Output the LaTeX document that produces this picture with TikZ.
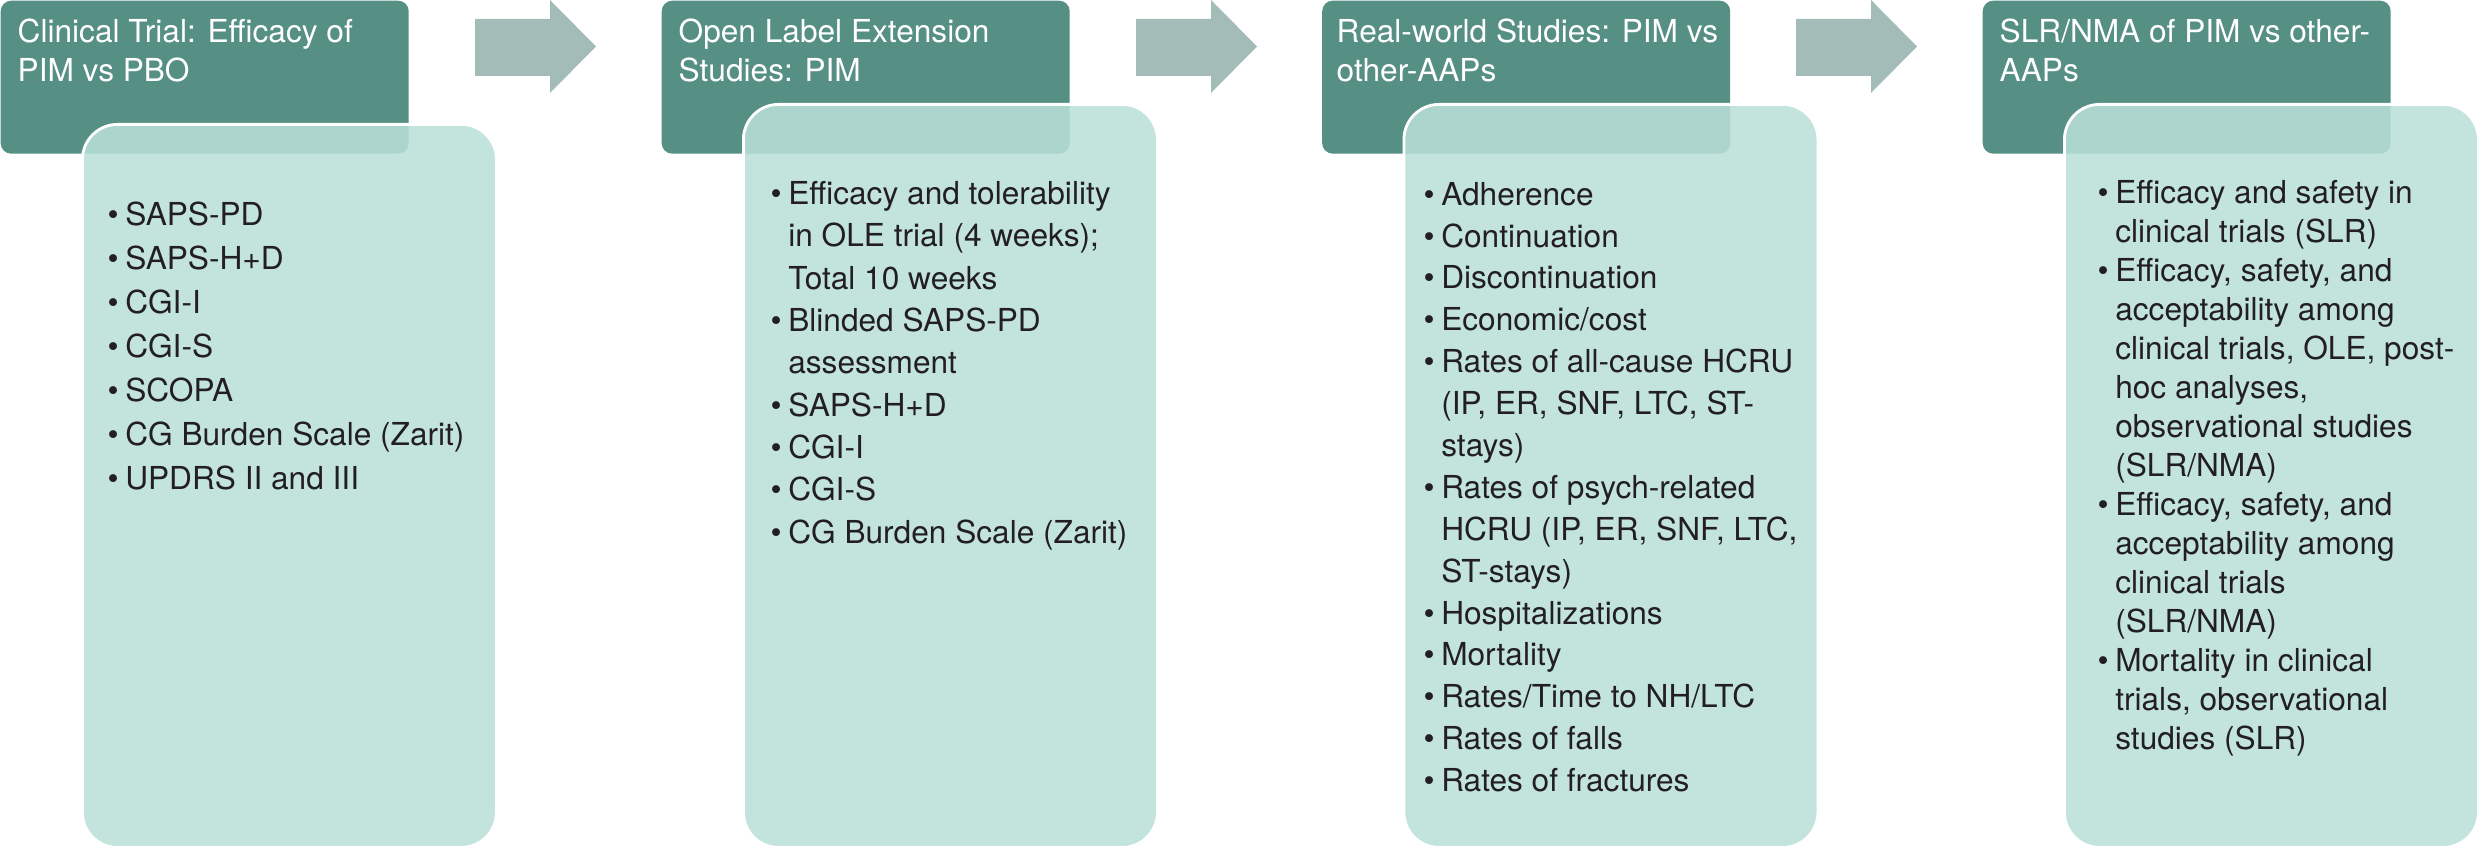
\documentclass[tikz,border=0pt]{standalone}
\usepackage{fontspec}
\setmainfont{TeX Gyre Heros}
\usepackage{tikz}
\usepackage{xcolor}

\definecolor{headerfill}{HTML}{568F84}
\definecolor{panelfill}{HTML}{B9E0D8}
\definecolor{arrowfill}{HTML}{A3BCB7}
\definecolor{textdark}{HTML}{231F20}

\newcommand{\bitem}{\makebox[5pt][l]{\textbullet}}
\newcommand{\bcont}{\hspace*{5pt}}

\begin{document}
\begin{tikzpicture}[
    every node/.style={font=\fontsize{9}{11.1}\selectfont},
    header/.style={
        fill=headerfill,
        rounded corners=3pt,
        anchor=north west,
        minimum width=4.08cm,
        minimum height=1.53cm,
        inner sep=0pt
    },
    panel/.style={
        fill=panelfill,
        fill opacity=0.88,
        draw=white,
        line width=0.8pt,
        rounded corners=10pt,
        anchor=north west,
        minimum width=4.14cm,
        inner sep=0pt
    },
    headtext/.style={
        anchor=north west,
        align=left,
        inner sep=0pt,
        text=white,
        execute at begin node={\rule{0pt}{7pt}}
    },
    items/.style={
        anchor=north west,
        align=left,
        inner sep=0pt,
        text=textdark,
        execute at begin node={\rule{0pt}{7pt}}
    },
    flow/.style={
        fill=arrowfill
    }
]

\useasboundingbox (0,0) rectangle (24.8,8.52);

% ============================================================
% CLINICAL TRIAL
% ============================================================

\node[header] (head1) at (0,8.52) {};

\node[
    panel,
    minimum height=7.23cm
] (body1) at (0.81,7.29) {};

\node[headtext] (title1) at (0.17,8.336)
{Clinical Trial: Efficacy of\\
PIM vs PBO};

\node[
    items,
    font=\fontsize{9}{12.5}\selectfont
] (list1) at (1.07,6.506)
{\bitem SAPS-PD\\
\bitem SAPS-H+D\\
\bitem CGI-I\\
\bitem CGI-S\\
\bitem SCOPA\\
\bitem CG Burden Scale (Zarit)\\
\bitem UPDRS II and III};

% Seta
\fill[flow] (4.75,8.33) -- (5.50,8.33) -- (5.50,8.52) -- (5.96,8.055)
    -- (5.50,7.59) -- (5.50,7.76) -- (4.75,7.76) -- cycle;

% ============================================================
% OPEN LABEL EXTENSION
% ============================================================

\node[header] (head2) at (6.61,8.52) {};

\node[
    panel,
    minimum height=7.43cm
] (body2) at (7.42,7.49) {};

\node[headtext] (title2) at (6.78,8.336)
{Open Label Extension\\
Studies: PIM};

\node[
    items,
    font=\fontsize{9}{12.06}\selectfont
] (list2) at (7.70,6.716)
{\bitem Efficacy and tolerability\\
\bcont in OLE trial (4 weeks);\\
\bcont Total 10 weeks\\
\bitem Blinded SAPS-PD\\
\bcont assessment\\
\bitem SAPS-H+D\\
\bitem CGI-I\\
\bitem CGI-S\\
\bitem CG Burden Scale (Zarit)};

% Seta
\fill[flow] (11.36,8.33) -- (12.11,8.33) -- (12.11,8.52) -- (12.57,8.055)
    -- (12.11,7.59) -- (12.11,7.76) -- (11.36,7.76) -- cycle;

% ============================================================
% REAL-WORLD STUDIES
% ============================================================

\node[header] (head3) at (13.215,8.52) {};

\node[
    panel,
    minimum height=7.43cm
] (body3) at (14.025,7.49) {};

\node[headtext] (title3) at (13.36,8.336)
{Real-world Studies: PIM vs\\
other-AAPs};

\node[
    items,
    font=\fontsize{9}{11.92}\selectfont
] (list3) at (14.23,6.706)
{\bitem Adherence\\
\bitem Continuation\\
\bitem Discontinuation\\
\bitem Economic/cost\\
\bitem Rates of all-cause HCRU\\
\bcont (IP, ER, SNF, LTC, ST-\\
\bcont stays)\\
\bitem Rates of psych-related\\
\bcont HCRU (IP, ER, SNF, LTC,\\
\bcont ST-stays)\\
\bitem Hospitalizations\\
\bitem Mortality\\
\bitem Rates/Time to NH/LTC\\
\bitem Rates of falls\\
\bitem Rates of fractures};

% Seta
\fill[flow] (17.96,8.33) -- (18.71,8.33) -- (18.71,8.52) -- (19.17,8.055)
    -- (18.71,7.59) -- (18.71,7.76) -- (17.96,7.76) -- cycle;

% ============================================================
% SLR/NMA
% ============================================================

\node[header] (head4) at (19.82,8.52) {};

\node[
    panel,
    minimum height=7.43cm
] (body4) at (20.63,7.49) {};

\node[headtext] (title4) at (19.99,8.336)
{SLR/NMA of PIM vs other-\\
AAPs};

\node[
    items,
    font=\fontsize{9}{11.1}\selectfont
] (list4) at (20.97,6.726)
{\bitem Efficacy and safety in\\
\bcont clinical trials (SLR)\\
\bitem Efficacy, safety, and\\
\bcont acceptability among\\
\bcont clinical trials, OLE, post-\\
\bcont hoc analyses,\\
\bcont observational studies\\
\bcont (SLR/NMA)\\
\bitem Efficacy, safety, and\\
\bcont acceptability among\\
\bcont clinical trials\\
\bcont (SLR/NMA)\\
\bitem Mortality in clinical\\
\bcont trials, observational\\
\bcont studies (SLR)};

\end{tikzpicture}
\end{document}
